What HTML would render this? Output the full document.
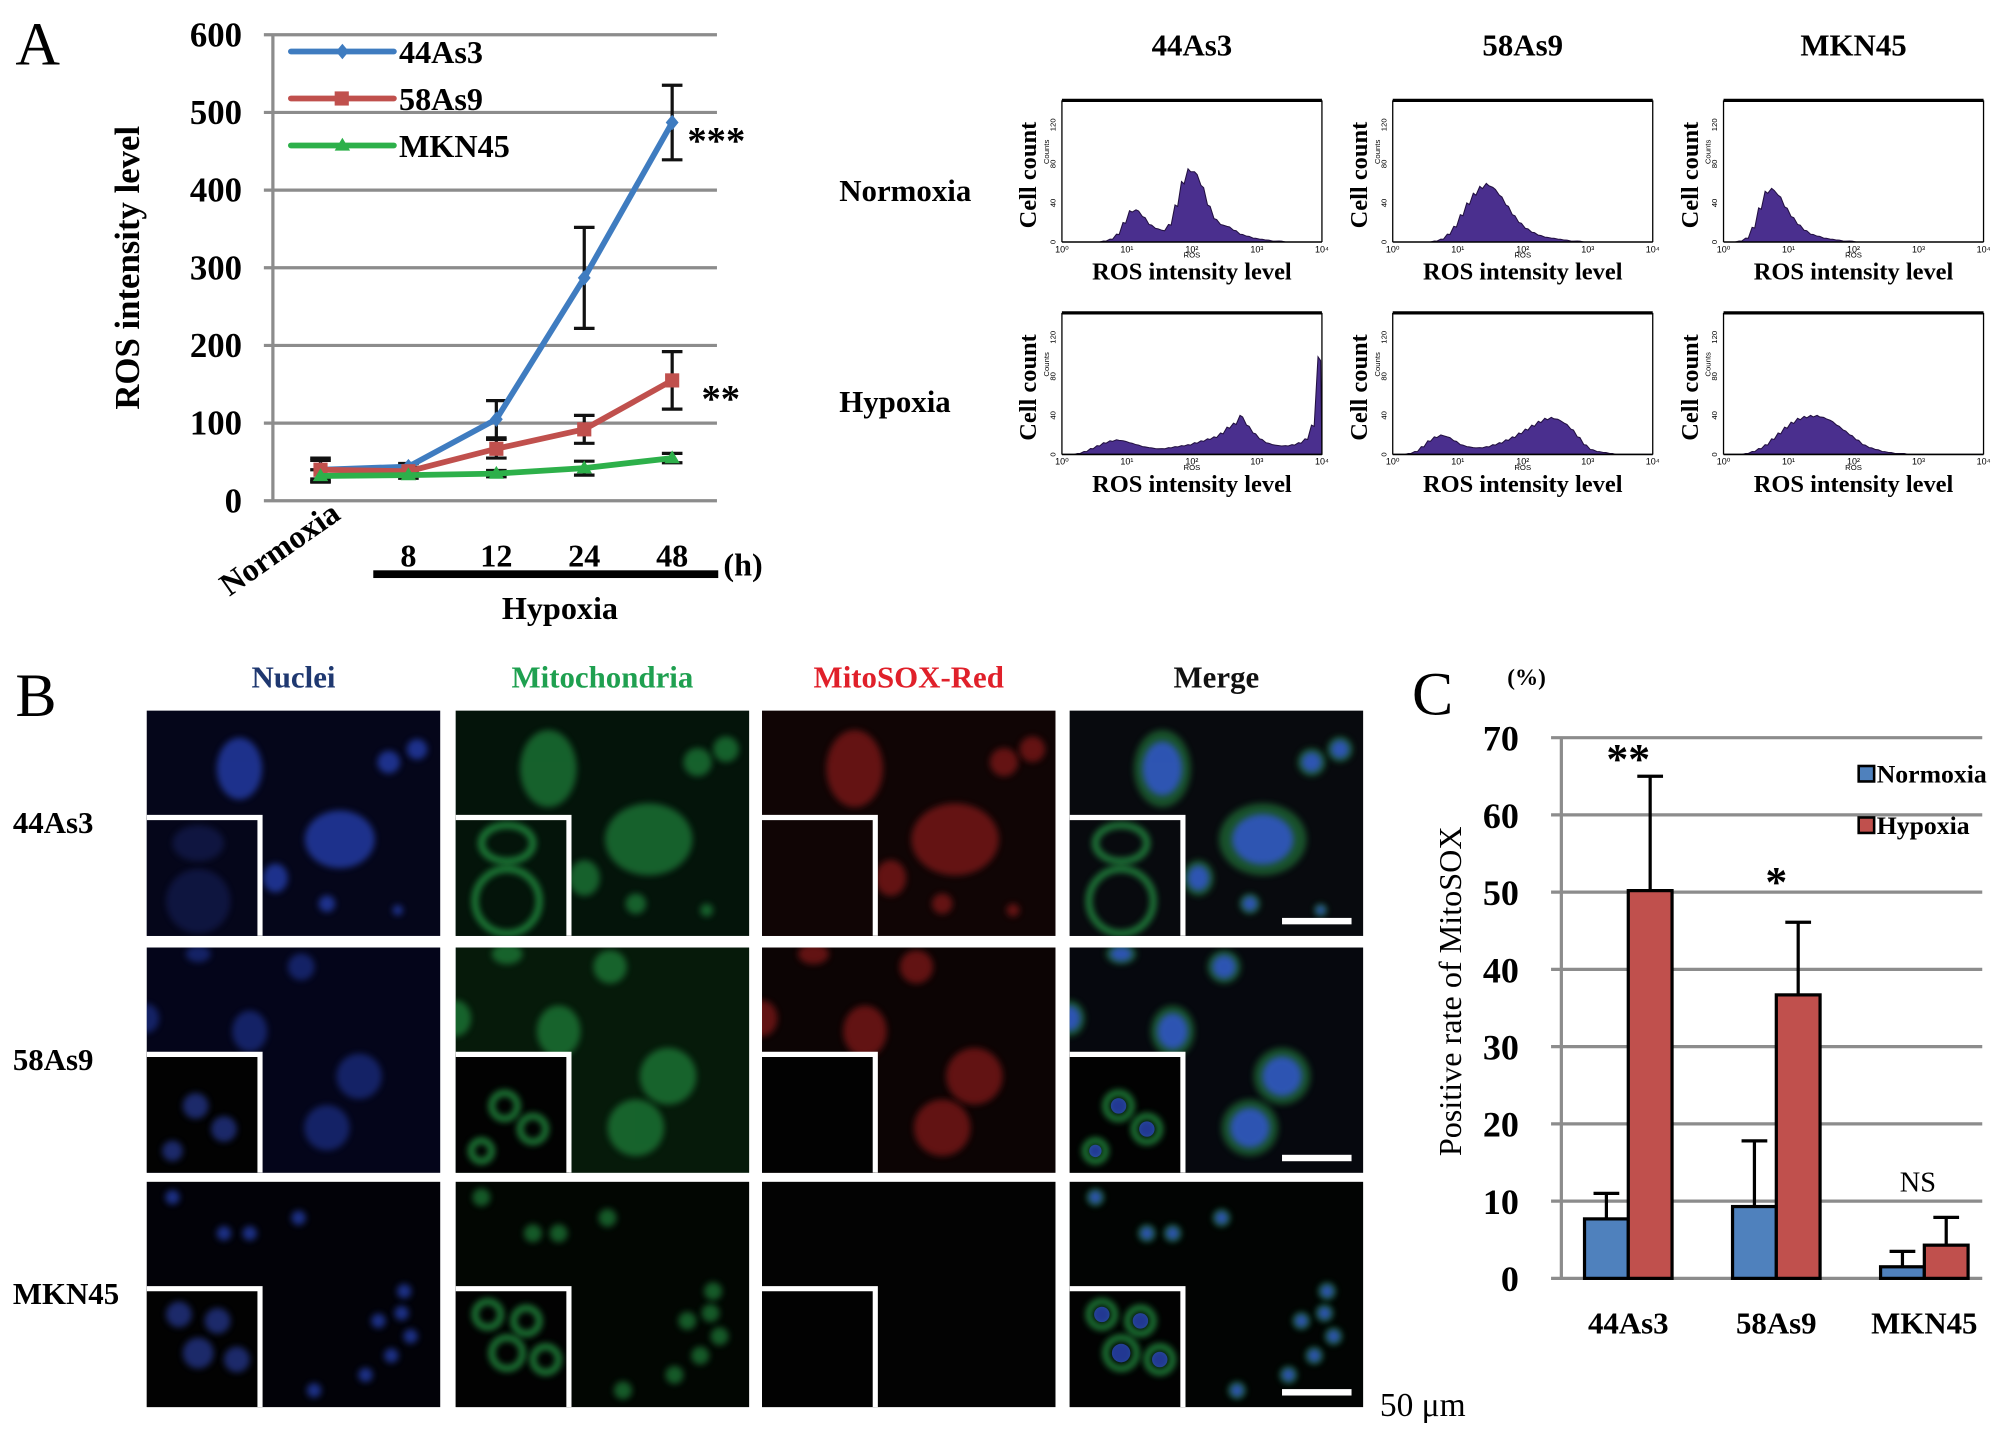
<!DOCTYPE html>
<html><head><meta charset="utf-8"><style>
html,body{margin:0;padding:0;background:#fff;}
svg{display:block;font-family:"Liberation Serif",serif;}
.b{font-weight:bold;}
</style></head><body>
<svg id="fig" width="2008" height="1429" viewBox="0 0 1560 1110" preserveAspectRatio="none" xmlns="http://www.w3.org/2000/svg">
<defs>
<filter id="blur" x="-50%" y="-50%" width="200%" height="200%"><feGaussianBlur stdDeviation="2.5"/></filter>
</defs>
<rect width="1560" height="1110" fill="#fff"/>
<text x="12" y="50" font-size="48">A</text>
<text x="12" y="556" font-size="48">B</text>
<text x="1097" y="555" font-size="48">C</text>
<g id="chartA"></g>
<g id="flow"></g>
<g id="micro"></g>
<g id="chartC"></g>
<text x="1072" y="1100" font-size="26">50 μm</text>
</svg>
<script>
const NS="http://www.w3.org/2000/svg";
function mk(parent,tag,attrs,text){const e=document.createElementNS(NS,tag);for(const k in attrs)e.setAttribute(k,attrs[k]);if(text!==undefined)e.textContent=text;parent.appendChild(e);return e;}

// ===== Chart A data =====
const timeLabels=["Normoxia","8","12","24","48"];
const yTicksA=[0,100,200,300,400,500,600];
const seriesNames=["44As3","58As9","MKN45"];
const vals44=[40,44,105,287,487];
const err44=[15,4,24,65,48];
const vals58=[40,38,67,92,155];
const err58=[12,5,12,18,37];
const valsMK=[32,33,35,42,55];
const errMK=[8,4,4,9,6];
const sigA=["***","**",""];

// ===== Chart C data =====
const catsC=["44As3","58As9","MKN45"];
const normC=[7.7,9.3,1.5];
const normErrC=[3.3,8.5,2.0];
const hypC=[50.2,36.7,4.3];
const hypErrC=[14.8,9.4,3.6];
const sigC=["**","*","NS"];
const yTicksC=[0,10,20,30,40,50,60,70];

// ===== Flow histogram data =====
const histN44=[0,0,0,0,0,0,1,3,8,20,32,33,26,18,14,12,18,38,62,75,72,58,38,24,18,16,12,8,6,4,3,2,1,1,0,0,0,0,0,0];
const histN58=[0,0,0,0,0,0,1,3,8,16,28,40,50,57,60,56,48,38,28,20,14,10,7,5,4,3,2,1,1,0,0,0,0,0,0,0,0,0,0,0];
const histNMK=[0,0,1,4,15,35,52,55,48,36,26,18,12,8,6,4,3,2,1,1,0,0,0,0,0,0,0,0,0,0,0,0,0,0,0,0,0,0,0,0];
const histH44=[0,0,1,3,6,9,12,14,15,14,12,10,8,7,6,6,7,8,9,10,12,14,16,18,22,28,32,40,30,22,16,12,10,9,9,10,12,16,30,100];
const histH58=[0,0,1,3,8,14,18,20,18,14,10,8,7,7,8,10,12,15,18,22,26,30,34,37,38,36,32,26,18,10,5,3,2,1,0,0,0,0,0,0];
const histHMK=[0,0,0,1,3,6,10,16,22,28,33,37,39,40,40,38,35,30,25,20,15,10,7,5,3,2,1,1,0,0,0,0,0,0,0,0,0,0,0,0];
const flowCols=["44As3","58As9","MKN45"];
const flowRows=["Normoxia","Hypoxia"];

(function(){
 const g=document.getElementById('chartA');
 const xL=212,xR=557,y0=389,y600=27;
 const yA=v=>y0-(v/600)*(y0-y600);
 const xA=i=>249+i*68.3;
 yTicksA.forEach(t=>{
  const l=mk(g,'line',{x1:205,x2:xR,y1:yA(t),y2:yA(t),stroke:'#8c8c8c','stroke-width':2.5});
  
  const tx=mk(g,'text',{x:188,y:yA(t)+9,'font-size':27,'text-anchor':'end',class:'b'},t);
  
 });
 const ax=mk(g,'line',{x1:xL,x2:xL,y1:y600,y2:y0,stroke:'#8c8c8c','stroke-width':2.5});
 
 const yt=mk(g,'text',{x:0,y:0,'font-size':27,'text-anchor':'middle',class:'b',transform:'translate(108,208) rotate(-90)'},'ROS intensity level');
 
 const colors=['#3f7cc0','#c0504d','#2db04a'];
 const all=[[vals44,err44],[vals58,err58],[valsMK,errMK]];
 all.forEach((s,si)=>{s[0].forEach((v,i)=>{
  const e=s[1][i],x=xA(i);
  const eg=mk(g,'g',{stroke:'#111','stroke-width':2.5});
  
  mk(eg,'line',{x1:x,x2:x,y1:yA(v-e),y2:yA(v+e)});
  mk(eg,'line',{x1:x-8,x2:x+8,y1:yA(v-e),y2:yA(v-e)});
  mk(eg,'line',{x1:x-8,x2:x+8,y1:yA(v+e),y2:yA(v+e)});
 });});
 all.forEach((s,si)=>{
  const pts=s[0].map((v,i)=>xA(i)+','+yA(v)).join(' ');
  const pl=mk(g,'polyline',{points:pts,fill:'none',stroke:colors[si],'stroke-width':4.5,'stroke-linejoin':'round'});
  
  s[0].forEach((v,i)=>{
   let m;
   if(si===0)m=mk(g,'path',{d:`M${xA(i)},${yA(v)-6}l5,6l-5,6l-5,-6z`,fill:colors[si]});
   else if(si===1)m=mk(g,'rect',{x:xA(i)-5.5,y:yA(v)-5.5,width:11,height:11,fill:colors[si]});
   else m=mk(g,'path',{d:`M${xA(i)},${yA(v)-6}l6,10h-12z`,fill:colors[si]});
   
  });
 });
 const s1=mk(g,'text',{x:534,y:yA(vals44[4])+24,'font-size':30,class:'b'},sigA[0]);
 
 const s2=mk(g,'text',{x:545,y:yA(vals58[4])+24,'font-size':30,class:'b'},sigA[1]);
 
 seriesNames.forEach((n,i)=>{
  const ly=40+i*36.5;
  const lg=mk(g,'g',{});
  
  mk(lg,'line',{x1:226,x2:306,y1:ly,y2:ly,stroke:colors[i],'stroke-width':4.5,'stroke-linecap':'round'});
  if(i===1)mk(lg,'rect',{x:260,y:ly-5.5,width:11,height:11,fill:colors[i]});
  if(i===0)mk(lg,'path',{d:`M266,${ly-6}l5,6l-5,6l-5,-6z`,fill:colors[i]});
  if(i===2)mk(lg,'path',{d:`M266,${ly-6}l6,10h-12z`,fill:colors[i]});
  mk(lg,'text',{x:310,y:ly+9,'font-size':25,class:'b'},n);
 });
 timeLabels.forEach((t,i)=>{
  let tx;
  if(i===0)tx=mk(g,'text',{x:0,y:0,'font-size':25,class:'b','text-anchor':'middle',transform:`translate(${xA(0)-27},${433}) rotate(-35)`},t);
  else tx=mk(g,'text',{x:xA(i),y:440,'font-size':25,class:'b','text-anchor':'middle'},t);
  
 });
 const bar=mk(g,'rect',{x:290,y:443,width:268,height:6,fill:'#000'});
 
 const h=mk(g,'text',{x:562,y:447,'font-size':25,class:'b'},'(h)');
 
 const hy=mk(g,'text',{x:435,y:481,'font-size':25,class:'b','text-anchor':'middle'},'Hypoxia');
 
})();

(function(){
 const g=document.getElementById('flow');
 const hists=[[histN44,histN58,histNMK],[histH44,histH58,histHMK]];
 const colX=[825,1082,1339],rowY=[78,243],W=202,H=110;
 flowCols.forEach((c,i)=>{
  const t=mk(g,'text',{x:colX[i]+W/2,y:43,'font-size':24,class:'b','text-anchor':'middle'},c);
  
 });
 const rl=[[652,156],[652,320]];
 flowRows.forEach((r,i)=>{
  const t=mk(g,'text',{x:rl[i][0],y:rl[i][1],'font-size':24,class:'b'},r);
  
 });
 hists.forEach((row,ri)=>row.forEach((hist,ci)=>{
  const x0=colX[ci],y0=rowY[ri],yb=y0+H;
  const pg=mk(g,'g',{});
  
  const yS=v=>yb-(v/145)*H;
  const xS=b=>x0+b/hist.length*W;
  let d=`M${xS(0)},${yb}`;
  hist.forEach((v,b)=>{d+=`L${xS(b)+2},${yS(v)}L${xS(b+1)-1},${yS(v*0.96)}`;});
  d+=`L${xS(hist.length)},${yb}Z`;
  mk(pg,'path',{d:d,fill:'#4a2f8e',stroke:'#221040','stroke-width':0.8});
  mk(pg,'line',{x1:x0,x2:x0+W,y1:y0,y2:y0,stroke:'#000','stroke-width':2.5});
  mk(pg,'line',{x1:x0,x2:x0,y1:y0,y2:yb,stroke:'#000','stroke-width':1});
  mk(pg,'line',{x1:x0+W,x2:x0+W,y1:y0,y2:yb,stroke:'#000','stroke-width':1});
  mk(pg,'line',{x1:x0,x2:x0+W,y1:yb,y2:yb,stroke:'#000','stroke-width':1.2});
  [0,40,80,120].forEach(t=>{mk(pg,'text',{x:0,y:0,'font-size':6,'font-family':'Liberation Sans','text-anchor':'middle',transform:`translate(${x0-5},${yS(t)}) rotate(-90)`},t);});
  mk(pg,'text',{x:0,y:0,'font-size':6,'font-family':'Liberation Sans','text-anchor':'middle',transform:`translate(${x0-10},${y0+40}) rotate(-90)`},'Counts');
  for(let k=0;k<=4;k++)mk(pg,'text',{x:x0+k*W/4,y:yb+8,'font-size':7,'font-family':'Liberation Sans','text-anchor':'middle'},'10'+['⁰','¹','²','³','⁴'][k]);
  mk(pg,'text',{x:x0+W/2,y:yb+12,'font-size':6,'font-family':'Liberation Sans','text-anchor':'middle'},'ROS');
  mk(pg,'text',{x:0,y:0,'font-size':19,class:'b','text-anchor':'middle',transform:`translate(${x0-20},${y0+58}) rotate(-90)`},'Cell count');
  mk(pg,'text',{x:x0+W/2,y:yb+29,'font-size':19,class:'b','text-anchor':'middle'},'ROS intensity level');
 }));
})();

(function(){
 const g=document.getElementById('micro');
 const colX=[114,354,592,831],rowY=[552,736,918],W=228,H=175;
 const heads=[['Nuclei','#1f3870'],['Mitochondria','#1fa050'],['MitoSOX-Red','#e0202a'],['Merge','#111']];
 heads.forEach((h,i)=>{
  const t=mk(g,'text',{x:colX[i]+W/2,y:534,'font-size':24,class:'b','text-anchor':'middle',fill:h[1]},h[0]);
  
 });
 ['44As3','58As9','MKN45'].forEach((r,i)=>{
  const t=mk(g,'text',{x:10,y:rowY[i]+95,'font-size':24,class:'b'},r);
  
 });
 const cells=[
  [[72,45,22,30],[188,40,11,11],[210,30,10,10],[150,100,34,28],[140,150,8,8],[195,155,5,5],[100,130,12,14]],
  [[40,5,12,8],[120,15,13,13],[80,65,17,20],[165,100,22,22],[140,140,22,22],[0,55,12,14]],
  [[20,12,7,7],[60,40,7,7],[80,40,7,7],[118,28,7,7],[180,108,7,7],[198,102,7,7],[205,120,7,7],[190,135,7,7],[170,150,7,7],[130,162,7,7],[200,85,7,7]]
 ];
 const insetCells=[
  [[40,20,20,14],[40,65,25,25]],
  [[38,40,10,10],[60,58,10,10],[20,75,8,8]],
  [[25,20,10,10],[55,25,10,10],[40,50,12,12],[70,55,10,10]]
 ];
 const bgs=[['#05061a','#04140a','#100505','#080a0e'],['#04051a','#061a0a','#0c0404','#06080e'],['#020208','#020602','#030303','#020403']];
 for(let r=0;r<3;r++)for(let c=0;c<4;c++){
  const x0=colX[c],y0=rowY[r];
  const pg=mk(g,'g',{});
  
  const cp=mk(pg,'clipPath',{id:'cp'+r+c});mk(cp,'rect',{x:x0,y:y0,width:W,height:H});
  mk(pg,'rect',{x:x0,y:y0,width:W,height:H,fill:bgs[r][c]});
  const cg=mk(pg,'g',{'clip-path':`url(#cp${r}${c})`});
  cells[r].forEach(ce=>{
   const cx=x0+ce[0],cy=y0+ce[1];
   if(c===0)mk(cg,'ellipse',{cx,cy,rx:ce[2]*0.8,ry:ce[3]*0.8,fill:'#2d50d8',opacity:r===1?0.4:0.6,filter:'url(#blur)'});
   else if(c===1){mk(cg,'ellipse',{cx,cy,rx:ce[2],ry:ce[3],fill:'#27a04a',opacity:0.55,filter:'url(#blur)'});}
   else if(c===2){if(r<2)mk(cg,'ellipse',{cx,cy,rx:ce[2],ry:ce[3],fill:'#b82424',opacity:0.5,filter:'url(#blur)'});}
   else{mk(cg,'ellipse',{cx,cy,rx:ce[2],ry:ce[3],fill:'#2a9a4a',opacity:0.5,filter:'url(#blur)'});
        mk(cg,'ellipse',{cx,cy,rx:ce[2]*0.7,ry:ce[3]*0.7,fill:'#3557e0',opacity:0.75,filter:'url(#blur)'});}
  });
  const iw=88,ih=92,ix=x0,iy=y0+H-ih;
  mk(cg,'rect',{x:ix,y:iy,width:iw,height:ih,fill:r===2||r===1?'#020202':bgs[r][c]});
  insetCells[r].forEach(ce=>{
   const cx=ix+ce[0],cy=iy+ce[1];
   if(c===0)mk(cg,'ellipse',{cx,cy,rx:ce[2],ry:ce[3],fill:'#2d45b0',opacity:r===0?0.25:0.6,filter:'url(#blur)'});
   else if(c===1||c===3){mk(cg,'ellipse',{cx,cy,rx:ce[2],ry:ce[3],fill:'none',stroke:'#2bb050','stroke-width':5,opacity:0.7,filter:'url(#blur)'});
     if(c===3&&r>0)mk(cg,'ellipse',{cx,cy,rx:ce[2]*0.6,ry:ce[3]*0.6,fill:'#3050d0',opacity:0.7});}
  });
  mk(cg,'path',{d:`M${ix},${iy}H${ix+iw}V${y0+H}`,fill:'none',stroke:'#fff','stroke-width':4});
  if(c===3)mk(pg,'rect',{x:x0+165,y:y0+H-14,width:54,height:5,fill:'#fff'});
 }
})();

(function(){
 const g=document.getElementById('chartC');
 const xL=1213,xR=1540,y0=993,yTop=573;
 const yC=v=>y0-(v/70)*(y0-yTop);
 const xC=i=>1265+i*115;
 const bw=34;
 yTicksC.forEach(t=>{
  const l=mk(g,'line',{x1:1205,x2:xR,y1:yC(t),y2:yC(t),stroke:'#8c8c8c','stroke-width':2.5});
  
  const tx=mk(g,'text',{x:1180,y:yC(t)+10,'font-size':28,class:'b','text-anchor':'end'},t);
  
 });
 const ax=mk(g,'line',{x1:xL,x2:xL,y1:yTop,y2:y0,stroke:'#8c8c8c','stroke-width':2.5});
 
 const un=mk(g,'text',{x:1171,y:532,'font-size':18,class:'b'},'(%)');
 
 const yt=mk(g,'text',{x:0,y:0,'font-size':25,'text-anchor':'middle',transform:'translate(1135,770) rotate(-90)'},'Positive rate of MitoSOX');
 
 catsC.forEach((c,i)=>{
  const xc=xC(i);
  [[normC,normErrC,'#4f81bd',-1,'normoxia'],[hypC,hypErrC,'#c0504d',0,'hypoxia']].forEach(s=>{
   const v=s[0][i],e=s[1][i],bx=xc+s[3]*bw;
   const xm=bx+bw/2;
   const el=mk(g,'g',{stroke:'#000','stroke-width':2.5});
   
   mk(el,'line',{x1:xm,x2:xm,y1:yC(v),y2:yC(v+e)});
   mk(el,'line',{x1:xm-10,x2:xm+10,y1:yC(v+e),y2:yC(v+e)});
   const b=mk(g,'rect',{x:bx,y:yC(v),width:bw,height:y0-yC(v),fill:s[2],stroke:'#000','stroke-width':2.5});
   
  });
  const xl=mk(g,'text',{x:xc,y:1036,'font-size':24,class:'b','text-anchor':'middle'},c);
  
  const topV=Math.max(hypC[i]+hypErrC[i],normC[i]+normErrC[i]);
  const sg=mk(g,'text',{x:xc+(i===2?-5:0),y:yC(topV)-(i===2?20:2)+(i===1?-18:0),'font-size':i===2?22:34,class:i===2?'':'b','text-anchor':'middle'},sigC[i]);
  
 });
 [['Normoxia','#4f81bd',602],['Hypoxia','#c0504d',642]].forEach(l=>{
  const lg=mk(g,'g',{});
  
  mk(lg,'rect',{x:1444,y:l[2]-7,width:12,height:12,fill:l[1],stroke:'#000','stroke-width':2});
  mk(lg,'text',{x:1458,y:l[2]+6,'font-size':20,class:'b'},l[0]);
 });
})();
</script>
</body></html>
